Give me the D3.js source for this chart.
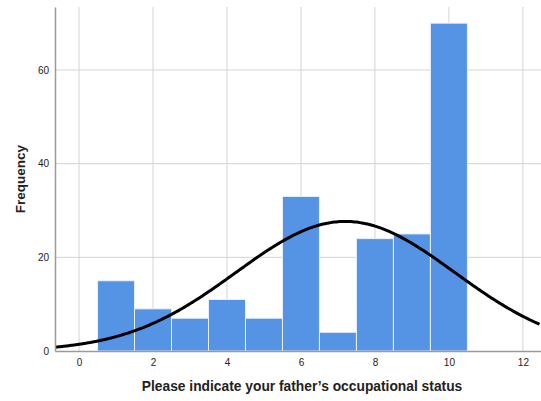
<!DOCTYPE html>
<html>
<head>
<meta charset="utf-8">
<script src="https://cdn.jsdelivr.net/npm/d3@7"></script>
<style>
  html, body { margin: 0; padding: 0; background: #fff; }
  svg { display: block; font-family: Arial, "Liberation Sans", sans-serif; }
</style>
</head>
<body>
<svg id="chart" width="541" height="401"></svg>
<script>
// Occupational status categories (bin centres) and their frequencies
const categories = [1, 2, 3, 4, 5, 6, 7, 8, 9, 10];
const frequencies = [15, 9, 7, 11, 7, 33, 4, 24, 25, 70];
const xTicks = [0, 2, 4, 6, 8, 10, 12];
const yTicks = [0, 20, 40, 60];

(function () {
const svg = d3.select("#chart");
const plotLeft = 55, plotRight = 541, plotTop = 7, plotBottom = 351;

const x = d3.scaleLinear().domain([-0.65, 12.49]).range([plotLeft, plotRight]);
const y = d3.scaleLinear().domain([0, 73.45]).range([plotBottom, plotTop]);

// Gridlines
svg.append("g").selectAll("line").data(xTicks).join("line")
  .attr("x1", d => x(d)).attr("x2", d => x(d))
  .attr("y1", plotTop).attr("y2", plotBottom)
  .attr("stroke", "#d4d4d4").attr("stroke-width", 1);
svg.append("g").selectAll("line").data(yTicks.filter(d => d > 0)).join("line")
  .attr("x1", plotLeft).attr("x2", plotRight)
  .attr("y1", d => y(d)).attr("y2", d => y(d))
  .attr("stroke", "#d4d4d4").attr("stroke-width", 1);

// Histogram bars
const data = categories.map((c, i) => ({ c, f: frequencies[i] }));
svg.append("g").selectAll("rect").data(data).join("rect")
  .attr("x", d => x(d.c - 0.5))
  .attr("width", d => x(d.c + 0.5) - x(d.c - 0.5))
  .attr("y", d => y(d.f))
  .attr("height", d => y(0) - y(d.f))
  .attr("fill", "#5594e4")
  .attr("stroke", "#e8f0fb")
  .attr("stroke-width", 1);

// Normal curve fitted to the distribution
const n = d3.sum(frequencies);
const mean = d3.sum(data, d => d.c * d.f) / n;
const variance = d3.sum(data, d => d.f * (d.c - mean) ** 2) / (n - 1);
const sd = Math.sqrt(variance);
const pts = d3.range(-0.65, 12.5, 0.05).map(v => [v,
  n / (sd * Math.sqrt(2 * Math.PI)) * Math.exp(-((v - mean) ** 2) / (2 * variance))]);
svg.append("path")
  .datum(pts)
  .attr("fill", "none")
  .attr("stroke", "#000")
  .attr("stroke-width", 3)
  .attr("d", d3.line().x(d => x(d[0])).y(d => y(d[1])).curve(d3.curveBasis));

// Axes
const xAxis = d3.axisBottom(x).tickValues(xTicks).tickSize(0).tickPadding(8);
const gx = svg.append("g").attr("transform", `translate(0,${plotBottom})`).call(xAxis);
gx.select(".domain").attr("stroke", "#9a9a9a").attr("stroke-width", 1.5);
gx.selectAll("text").attr("font-size", 10).attr("fill", "#222").attr("font-family", "Arial, 'Liberation Sans', sans-serif");

const yAxis = d3.axisLeft(y).tickValues(yTicks).tickSize(0).tickPadding(6);
const gy = svg.append("g").attr("transform", `translate(${plotLeft},0)`).call(yAxis);
gy.select(".domain").attr("stroke", "#9a9a9a").attr("stroke-width", 1.5);
gy.selectAll("text").attr("font-size", 10).attr("fill", "#222").attr("font-family", "Arial, 'Liberation Sans', sans-serif");

// Axis titles
svg.append("text")
  .attr("x", 302).attr("y", 391)
  .attr("text-anchor", "middle")
  .attr("font-size", 13.8).attr("font-weight", "bold").attr("fill", "#222")
  .text("Please indicate your father\u2019s occupational status");
svg.append("text")
  .attr("transform", `translate(25,${(plotTop + plotBottom) / 2}) rotate(-90)`)
  .attr("text-anchor", "middle")
  .attr("font-size", 13.5).attr("font-weight", "bold").attr("fill", "#222")
  .text("Frequency");
})();
</script>
</body>
</html>
